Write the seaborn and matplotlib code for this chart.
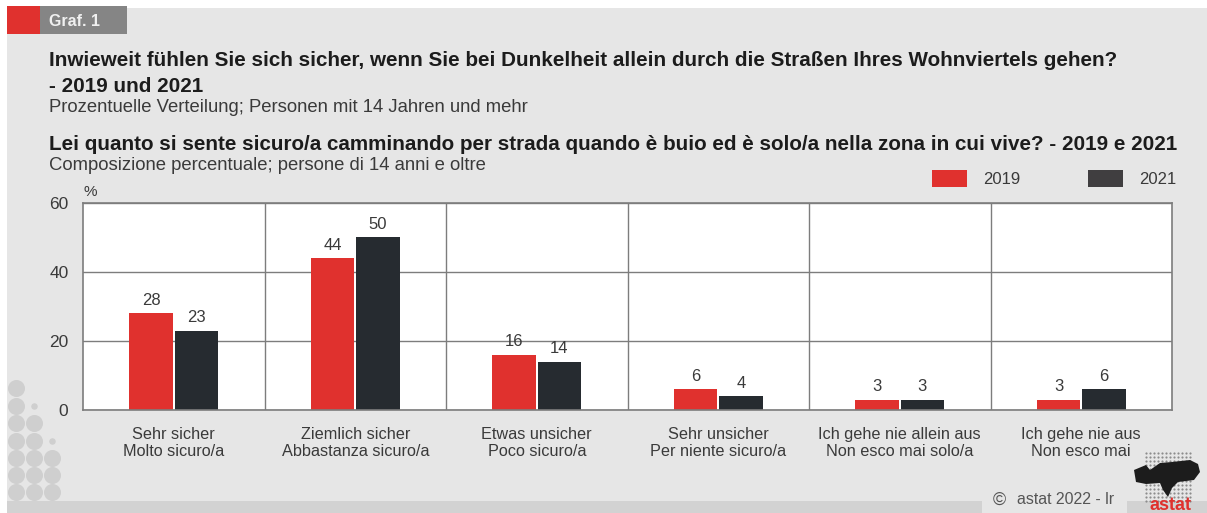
import pandas as pd
import seaborn as sns
import matplotlib.pyplot as plt
from matplotlib.patches import Rectangle, Polygon

W, H = 1207, 513

# chart data
labels = [
    "Sehr sicher\nMolto sicuro/a",
    "Ziemlich sicher\nAbbastanza sicuro/a",
    "Etwas unsicher\nPoco sicuro/a",
    "Sehr unsicher\nPer niente sicuro/a",
    "Ich gehe nie allein aus\nNon esco mai solo/a",
    "Ich gehe nie aus\nNon esco mai",
]
years = ["2019", "2021"]
values_2019 = [28, 44, 16, 6, 3, 3]
values_2021 = [23, 50, 14, 4, 3, 6]
y_ticks = [0, 20, 40, 60]

RED = "#e0312e"
DARK = "#262b30"
TEXT = "#3a3a3a"
GRID = "#7d7d7d"

sns.set_theme(style="white")
plt.rcParams["font.family"] = ["Liberation Sans", "DejaVu Sans"]

df = pd.DataFrame(
    {
        "label": labels * 2,
        "year": [years[0]] * 6 + [years[1]] * 6,
        "value": values_2019 + values_2021,
    }
)

fig = plt.figure(figsize=(W / 100, H / 100), dpi=100, facecolor="white")

# background layer in pixel coordinates
bg = fig.add_axes([0, 0, 1, 1])
bg.set_xlim(0, W)
bg.set_ylim(H, 0)
bg.axis("off")
bg.add_patch(Rectangle((7, 8), W - 7, H - 8, color="#e6e6e6", lw=0))
bg.add_patch(Rectangle((7, 501), 975, 12, color="#d2d2d2", lw=0))
bg.add_patch(Rectangle((1127, 501), 80, 12, color="#d2d2d2", lw=0))
bg.add_patch(Rectangle((7, 6), 33, 28, color=RED, lw=0))
bg.add_patch(Rectangle((40, 6), 87, 28, color="#858585", lw=0))
bg.text(49, 21, "Graf. 1", color="#f0f0f0", fontsize=11.5, fontweight="bold", va="center")

# dots in the lower left corner
rows = [388, 406, 423, 441, 458, 475, 492]
cols = [16, 34, 52]
for i, ry in enumerate(rows):
    for j, cx in enumerate(cols):
        if i >= j * 2:
            bg.scatter(cx, ry, s=150, color="#cfcfcf", lw=0)
        elif i == j * 2 - 1:
            bg.scatter(cx, ry, s=22, color="#cfcfcf", lw=0)

# logo
for gy in range(453, 504, 4):
    for gx in range(1146, 1194, 4):
        bg.scatter(gx, gy, s=2.5, color="#8c8c8c", lw=0)
bg.add_patch(
    Polygon(
        [(1134, 470), (1146, 465), (1150, 470), (1160, 463), (1172, 462), (1190, 460),
         (1198, 464), (1200, 472), (1194, 480), (1178, 482), (1172, 488), (1168, 497),
         (1163, 490), (1160, 483), (1146, 484), (1136, 482)],
        closed=True, color="#1c1c1c", lw=0,
    )
)
bg.text(1170, 505, "astat", color=RED, fontsize=13, fontweight="bold", ha="center", va="center")
bg.text(993, 500, "©", color="#555555", fontsize=13, va="center")
bg.text(1017, 500, "astat 2022 - lr", color="#555555", fontsize=11.4, va="center")

# headings
bg.text(49, 61, "Inwieweit fühlen Sie sich sicher, wenn Sie bei Dunkelheit allein durch die Straßen Ihres Wohnviertels gehen?",
        color="#1c1c1c", fontsize=14.9, fontweight="bold", va="center")
bg.text(49, 86, "- 2019 und 2021", color="#1c1c1c", fontsize=14.9, fontweight="bold", va="center")
bg.text(49, 107, "Prozentuelle Verteilung; Personen mit 14 Jahren und mehr", color=TEXT, fontsize=13.3, va="center")
bg.text(49, 145, "Lei quanto si sente sicuro/a camminando per strada quando è buio ed è solo/a nella zona in cui vive? - 2019 e 2021",
        color="#1c1c1c", fontsize=14.9, fontweight="bold", va="center")
bg.text(49, 165, "Composizione percentuale; persone di 14 anni e oltre", color=TEXT, fontsize=13.3, va="center")

# legend
bg.add_patch(Rectangle((932, 170), 35, 17, color=RED, lw=0))
bg.add_patch(Rectangle((1088, 170), 35, 17, color="#403e40", lw=0))
bg.text(983, 180, years[0], color=TEXT, fontsize=12, va="center")
bg.text(1139, 180, years[1], color=TEXT, fontsize=12, va="center")

# bars
ax = fig.add_axes([83 / W, 1 - 410 / H, (1172 - 83) / W, (410 - 203) / H])
ax.set_facecolor("white")
sns.barplot(
    data=df, x="label", y="value", hue="year", hue_order=years,
    palette=[RED, DARK], width=0.5, gap=0.04, dodge=True,
    legend=False, saturation=1, linewidth=0, ax=ax,
)
ax.set_ylim(0, 60)
ax.set_xlim(-0.5, 5.5)
ax.set_yticks(y_ticks)
ax.set_xlabel("")
ax.set_ylabel("")
ax.set_axisbelow(True)
ax.yaxis.grid(True, color=GRID, lw=1)
for x in range(1, 6):
    ax.axvline(x - 0.5, color=GRID, lw=1, zorder=0.5)
for side in ax.spines.values():
    side.set_color(GRID)
    side.set_linewidth(1.2)
ax.tick_params(axis="y", length=0, labelsize=12.5, labelcolor=TEXT, pad=10.5)
ax.tick_params(axis="x", length=0, labelsize=11.7, labelcolor=TEXT, pad=12)
for c in ax.containers:
    ax.bar_label(c, padding=4, fontsize=12, color=TEXT)
ax.text(0.0, 1.02, "%", transform=ax.transAxes, fontsize=11, color=TEXT, va="bottom", ha="left")

fig.savefig("out.png", dpi=100)
